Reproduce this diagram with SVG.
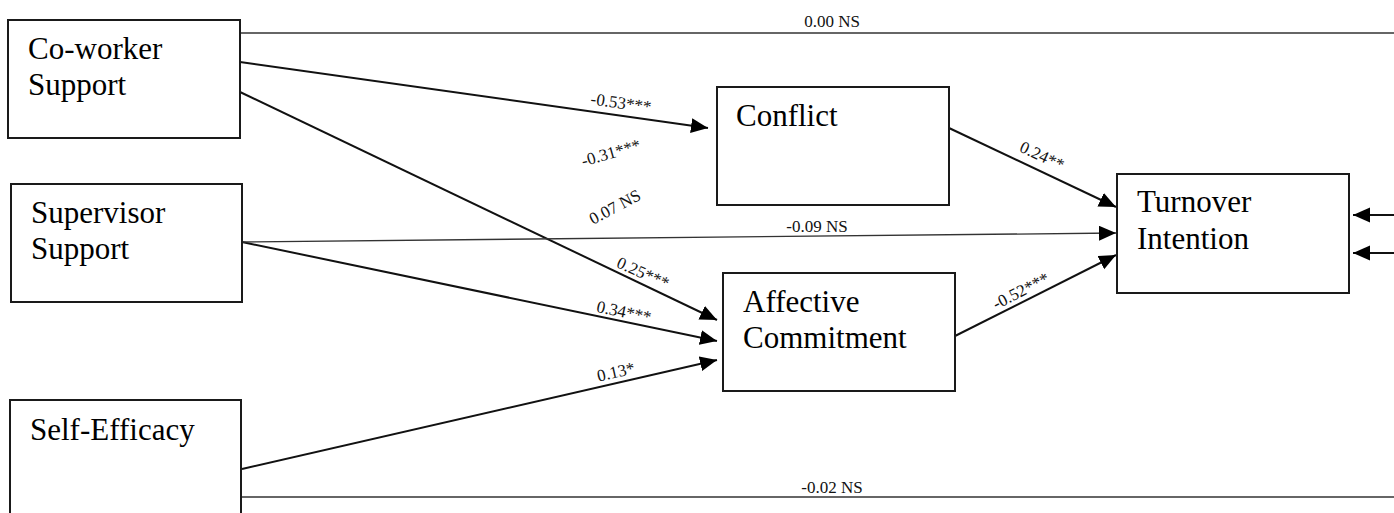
<svg xmlns="http://www.w3.org/2000/svg" width="1394" height="513" viewBox="0 0 1394 513">
<defs>
<style>
.box{fill:#fff;stroke:#1a1a1a;stroke-width:2}
.nt{font-family:"Liberation Serif","Times New Roman",serif;font-size:31px;fill:#000}
.lb{font-family:"Liberation Serif","Times New Roman",serif;font-size:17px;fill:#111;text-anchor:middle;dominant-baseline:central}
.arr{stroke:#111;stroke-width:2;fill:none;marker-end:url(#ah)}
.thin{stroke:#333;stroke-width:1.3;fill:none}
.thinarr{stroke:#333;stroke-width:1.3;fill:none;marker-end:url(#ah)}
</style>
<marker id="ah" markerUnits="userSpaceOnUse" markerWidth="18" markerHeight="16" refX="17" refY="7.5" orient="auto">
<path d="M0,0 L17,7.5 L0,15 Z" fill="#000"/>
</marker>
</defs>
<g id="connectors">
<line class="thin" x1="240" y1="33" x2="1394" y2="33"/>
<line class="thin" x1="242" y1="497" x2="1394" y2="497"/>
<line class="arr" x1="240" y1="62" x2="708" y2="128"/>
<line class="arr" x1="240" y1="92" x2="717" y2="320"/>
<line class="arr" x1="242" y1="242" x2="717" y2="341"/>
<line class="thinarr" x1="242" y1="242" x2="1116" y2="233"/>
<line class="arr" x1="242" y1="469" x2="717" y2="360"/>
<line class="arr" x1="949" y1="128" x2="1116" y2="207"/>
<line class="arr" x1="955" y1="336" x2="1116" y2="255"/>
<line class="arr" x1="1394" y1="215" x2="1353" y2="215"/>
<line class="arr" x1="1394" y1="253" x2="1353" y2="253"/>
</g>
<g id="labels">
<text class="lb" x="832" y="21">0.00 NS</text>
<text class="lb" x="621" y="103" transform="rotate(8 621 103)">-0.53***</text>
<text class="lb" x="611" y="153" transform="rotate(-16 611 153)">-0.31***</text>
<text class="lb" x="615" y="207" transform="rotate(-28 615 207)">0.07 NS</text>
<text class="lb" x="817" y="226">-0.09 NS</text>
<text class="lb" x="643" y="273" transform="rotate(24 643 273)">0.25***</text>
<text class="lb" x="624" y="312" transform="rotate(12 624 312)">0.34***</text>
<text class="lb" x="616" y="372" transform="rotate(-13 616 372)">0.13*</text>
<text class="lb" x="1042" y="156" transform="rotate(25 1042 156)">0.24**</text>
<text class="lb" x="1021" y="291" transform="rotate(-27 1021 291)">-0.52***</text>
<text class="lb" x="832" y="487">-0.02 NS</text>
</g>
<g id="coworker">
<rect class="box" x="8" y="20" width="232" height="118"/>
<text class="nt" x="28" y="59">Co-worker</text>
<text class="nt" x="28" y="95">Support</text>
</g>
<g id="supervisor">
<rect class="box" x="11" y="184" width="231" height="118"/>
<text class="nt" x="31" y="223">Supervisor</text>
<text class="nt" x="31" y="259">Support</text>
</g>
<g id="selfefficacy">
<rect class="box" x="10" y="400" width="231" height="130"/>
<text class="nt" x="30" y="440">Self-Efficacy</text>
</g>
<g id="conflict">
<rect class="box" x="717" y="87" width="232" height="118"/>
<text class="nt" x="736" y="126">Conflict</text>
</g>
<g id="affective">
<rect class="box" x="723" y="273" width="232" height="118"/>
<text class="nt" x="743" y="312">Affective</text>
<text class="nt" x="743" y="348">Commitment</text>
</g>
<g id="turnover">
<rect class="box" x="1117" y="174" width="232" height="119"/>
<text class="nt" x="1137" y="212">Turnover</text>
<text class="nt" x="1137" y="249">Intention</text>
</g>
</svg>
